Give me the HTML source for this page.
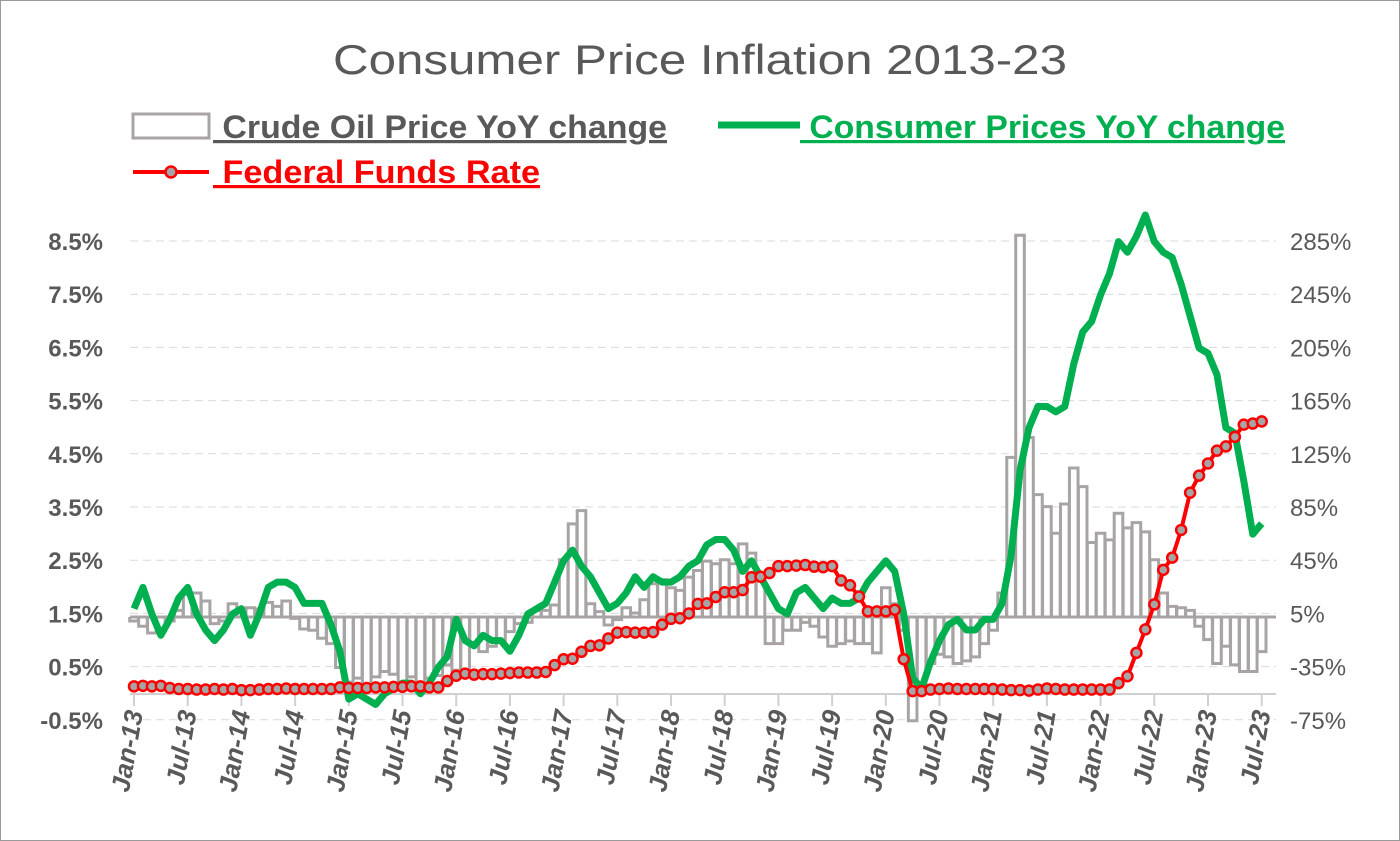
<!DOCTYPE html>
<html><head><meta charset="utf-8"><style>
body{margin:0;background:#fff;}
svg{display:block;font-family:"Liberation Sans",sans-serif;}
</style></head><body>
<svg id="c" width="1400" height="841" xmlns="http://www.w3.org/2000/svg">
<rect x="0.5" y="0.5" width="1399" height="840" fill="#fff" stroke="#9a9a9a"/>
<text x="333" y="74" textLength="734" lengthAdjust="spacingAndGlyphs" font-size="42" fill="#595959">Consumer Price Inflation 2013-23</text>
<rect x="133" y="114" width="76" height="24" fill="#fff" stroke="#a8a4a4" stroke-width="3"/>
<text x="213" y="138" textLength="454" lengthAdjust="spacingAndGlyphs" font-size="32" font-weight="bold" fill="#595959" text-decoration="underline" xml:space="preserve"> Crude Oil Price YoY change</text>
<line x1="718" y1="125" x2="800" y2="125" stroke="#00b050" stroke-width="7"/>
<text x="800" y="138" textLength="485" lengthAdjust="spacingAndGlyphs" font-size="32" font-weight="bold" fill="#00b050" text-decoration="underline" xml:space="preserve"> Consumer Prices YoY change</text>
<line x1="133" y1="172" x2="209" y2="172" stroke="#ff0000" stroke-width="4"/>
<circle cx="171" cy="172" r="5.5" fill="#a5a5a5" stroke="#ff0000" stroke-width="2.5"/>
<text x="213" y="183" textLength="327" lengthAdjust="spacingAndGlyphs" font-size="32" font-weight="bold" fill="#ff0000" text-decoration="underline" xml:space="preserve"> Federal Funds Rate</text>
<g id="g"></g>
</svg>
<script>
var NS="http://www.w3.org/2000/svg",g=document.getElementById('g');
function el(t,a,txt){var e=document.createElementNS(NS,t);for(var k in a)e.setAttribute(k,a[k]);if(txt!==undefined)e.textContent=txt;g.appendChild(e);return e;}
var X=function(i){return 134+i*8.95;};
var YL=function(v){return 614-(v-1.5)*53.2;};
var YR=function(v){return 617-v*1.33;};
var ll=["8.5%","7.5%","6.5%","5.5%","4.5%","3.5%","2.5%","1.5%","0.5%","-0.5%"];
var rl=["285%","245%","205%","165%","125%","85%","45%","5%","-35%","-75%"];
for(var k=0;k<10;k++){var y=241+k*53.2;
 el('line',{x1:130,x2:1276,y1:y,y2:y,stroke:'#d9d9d9','stroke-width':1,'stroke-dasharray':'8,5'});
 el('text',{x:103,y:y+9,'text-anchor':'end','font-size':24,'font-weight':'bold',fill:'#595959'},ll[k]);
 el('text',{x:1290,y:y+9,'font-size':24,fill:'#595959'},rl[k]);}
var oil=[-3,-7,-12,-10,-3,5,17,18,12,-5,-3,10, 0,7,6,11,8,12,-1,-9,-10,-16,-20,-38,
-49,-46,-53,-45,-41,-43,-51,-45,-51,-46,-44,-36, -40,-40,-21,-26,-22,-18,-11,-5,-4,5,5,9,
43,70,80,10,4,-6,-2,7,3,13,25,28, 22,20,30,35,42,40,43,40,55,48,30,-20,
-20,-10,-10,-4,-7,-15,-22,-20,-18,-20,-20,-27, 22,10,-10,-78,-53,-35,-28,-30,-35,-33,-30,-20,
-10,18,120,287,135,92,83,63,85,112,98,56, 63,58,78,67,71,64,43,18,8,7,5,-7, -17,-35,-22,-36,-41,-41,-26];
var d="";
for(var i=0;i<oil.length;i++){var x0=X(i)-4.3,x1=X(i)+4.3,y=YR(oil[i]);d+="M"+x0+",617V"+y+"H"+x1+"V617";}
el('path',{d:d,fill:'#fff',stroke:'#a8a4a4','stroke-width':3});
el('line',{x1:130,x2:1276,y1:617,y2:617,stroke:'#a8a4a4','stroke-width':3});
el('line',{x1:130,x2:1276,y1:694,y2:694,stroke:'#d0d0d0','stroke-width':2});
var mon=["Jan","Jul"];
for(var j=0;j<=21;j++){var x=X(j*6);el('line',{x1:x,x2:x,y1:694,y2:706,stroke:'#d0d0d0','stroke-width':2});
 var lab=mon[j%2]+"-"+(13+Math.floor(j/2));
 el('text',{x:0,y:0,transform:'translate('+(x+9)+',712) rotate(-80)','text-anchor':'end','font-size':26,'font-weight':'bold','font-style':'italic',fill:'#595959'},lab);}
var cpi=[1.6,2.0,1.5,1.1,1.4,1.8,2.0,1.5,1.2,1.0,1.2,1.5, 1.6,1.1,1.5,2.0,2.1,2.1,2.0,1.7,1.7,1.7,1.3,0.8,
-0.1,0.0,-0.1,-0.2,0.0,0.1,0.2,0.2,0.0,0.2,0.5,0.7, 1.4,1.0,0.9,1.1,1.0,1.0,0.8,1.1,1.5,1.6,1.7,2.1,
2.5,2.7,2.4,2.2,1.9,1.6,1.7,1.9,2.2,2.0,2.2,2.1, 2.1,2.2,2.4,2.5,2.8,2.9,2.9,2.7,2.3,2.5,2.2,1.9,
1.6,1.5,1.9,2.0,1.8,1.6,1.8,1.7,1.7,1.8,2.1,2.3, 2.5,2.3,1.5,0.3,0.1,0.6,1.0,1.3,1.4,1.2,1.2,1.4,
1.4,1.7,2.6,4.2,5.0,5.4,5.4,5.3,5.4,6.2,6.8,7.0, 7.5,7.9,8.5,8.3,8.6,9.0,8.5,8.3,8.2,7.7,7.1,6.5, 6.4,6.0,5.0,4.9,4.0,3.0,3.2];
var pts=cpi.map(function(v,i){return X(i)+","+YL(v);}).join(" ");
el('polyline',{points:pts,fill:'none',stroke:'#00b050','stroke-width':7,'stroke-linejoin':'round'});
var ff=[0.14,0.15,0.14,0.15,0.11,0.09,0.09,0.08,0.08,0.09,0.08,0.09, 0.07,0.07,0.08,0.09,0.09,0.10,0.09,0.09,0.09,0.09,0.09,0.12,
0.11,0.11,0.11,0.12,0.12,0.13,0.13,0.14,0.14,0.12,0.12,0.24, 0.34,0.38,0.36,0.37,0.37,0.38,0.39,0.40,0.40,0.40,0.41,0.54,
0.65,0.66,0.79,0.90,0.91,1.04,1.15,1.16,1.15,1.15,1.16,1.30, 1.41,1.42,1.51,1.69,1.70,1.82,1.91,1.91,1.95,2.19,2.20,2.27,
2.40,2.40,2.41,2.42,2.39,2.38,2.40,2.13,2.04,1.83,1.55,1.55, 1.55,1.58,0.65,0.05,0.05,0.08,0.09,0.10,0.09,0.09,0.09,0.09,
0.09,0.08,0.07,0.07,0.06,0.08,0.10,0.09,0.08,0.08,0.08,0.08, 0.08,0.08,0.20,0.33,0.77,1.21,1.68,2.33,2.56,3.08,3.78,4.10, 4.33,4.57,4.65,4.83,5.06,5.08,5.12];
var p2=ff.map(function(v,i){return X(i)+","+YL(v);}).join(" ");
el('polyline',{points:p2,fill:'none',stroke:'#ff0000','stroke-width':4,'stroke-linejoin':'round'});
ff.forEach(function(v,i){el('circle',{cx:X(i),cy:YL(v),r:5,fill:'#a5a5a5',stroke:'#ff0000','stroke-width':2.5});});
</script>
</body></html>
